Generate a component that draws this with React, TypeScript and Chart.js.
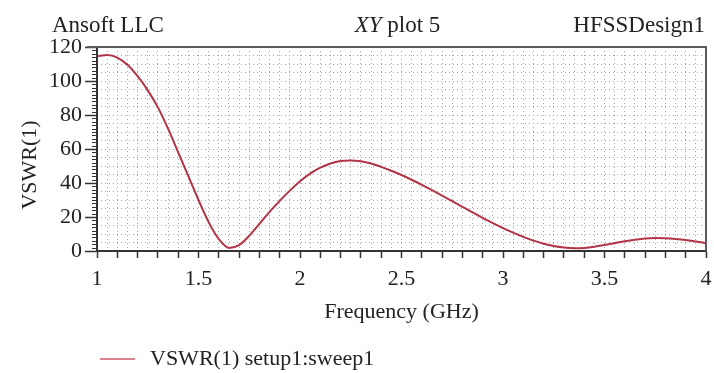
import { useEffect, useRef } from "react";
import { Chart, registerables } from "chart.js";

Chart.register(...registerables);

const FONT = '"Liberation Serif", "Times New Roman", serif';

const FREQ_GHZ = [
  1.0, 1.05, 1.1, 1.15, 1.2, 1.25, 1.3, 1.35, 1.4, 1.45,
  1.5, 1.55, 1.6, 1.65, 1.7, 1.75, 1.8, 1.85, 1.9, 1.95,
  2.0, 2.05, 2.1, 2.15, 2.2, 2.25, 2.3, 2.35, 2.4, 2.45,
  2.5, 2.55, 2.6, 2.65, 2.7, 2.75, 2.8, 2.85, 2.9, 2.95,
  3.0, 3.05, 3.1, 3.15, 3.2, 3.25, 3.3, 3.35, 3.4, 3.45,
  3.5, 3.55, 3.6, 3.65, 3.7, 3.75, 3.8, 3.85, 3.9, 3.95, 4.0,
];

const VSWR = [
  114.5, 115.3, 113.8, 109.5, 102.8, 94.5, 84.5, 72, 58, 44,
  30, 17, 7, 1.8, 3.5, 9, 16, 23, 29.5, 35.5,
  41, 45.5, 49, 51.5, 53, 53.3, 52.8, 51.5, 49.5, 47.2,
  44.7, 41.9, 38.9, 35.8, 32.6, 29.3, 26, 22.7, 19.5, 16.4,
  13.5, 10.8, 8.3, 6.1, 4.3, 2.9, 2, 1.6, 1.8, 2.5,
  3.5, 4.6, 5.7, 6.6, 7.3, 7.6, 7.5, 7.1, 6.5, 5.6, 4.6,
];

const X_TICK_LABELS = ["1", "1.5", "2", "2.5", "3", "3.5", "4"];
const Y_TICK_LABELS = ["0", "20", "40", "60", "80", "100", "120"];

const TITLE_LEFT = "Ansoft LLC";
const TITLE_CENTER_ITALIC = "XY";
const TITLE_CENTER_REST = " plot 5";
const TITLE_RIGHT = "HFSSDesign1";
const X_TITLE = "Frequency (GHz)";
const Y_TITLE = "VSWR(1)";
const LEGEND_LABEL = "VSWR(1) setup1:sweep1";

const decor = {
  id: "decor",
  afterDraw(chart: any) {
    const ctx = chart.ctx as CanvasRenderingContext2D;
    const { left, right, top, bottom } = chart.chartArea;
    const ys = chart.scales.y;
    ctx.save();
    // frame top / right
    ctx.strokeStyle = "#5a5a5a";
    ctx.lineWidth = 2;
    ctx.beginPath();
    ctx.moveTo(left - 10, top);
    ctx.lineTo(right, top);
    ctx.lineTo(right, bottom);
    ctx.stroke();
    // minor y ticks
    ctx.strokeStyle = "#333";
    ctx.lineWidth = 1;
    for (let v = 0; v <= 120; v += 2) {
      if (v % 20 === 0) continue;
      const y = Math.round(ys.getPixelForValue(v)) + 0.5;
      ctx.beginPath();
      ctx.moveTo(left - 5, y);
      ctx.lineTo(left, y);
      ctx.stroke();
    }
    // header
    ctx.fillStyle = "#222";
    ctx.textBaseline = "alphabetic";
    ctx.font = `23px ${FONT}`;
    ctx.textAlign = "left";
    ctx.fillText(TITLE_LEFT, 52, 32);
    ctx.textAlign = "right";
    ctx.fillText(TITLE_RIGHT, right - 1, 32);
    ctx.textAlign = "left";
    ctx.font = `italic 23px ${FONT}`;
    const wI = ctx.measureText(TITLE_CENTER_ITALIC).width;
    ctx.font = `23px ${FONT}`;
    const wR = ctx.measureText(TITLE_CENTER_REST).width;
    const cx = (left + right) / 2;
    const sx = cx - 4 - (wI + wR) / 2;
    ctx.font = `italic 23px ${FONT}`;
    ctx.fillText(TITLE_CENTER_ITALIC, sx, 32);
    ctx.font = `23px ${FONT}`;
    ctx.fillText(TITLE_CENTER_REST, sx + wI, 32);
    // x title
    ctx.textAlign = "center";
    ctx.font = `22px ${FONT}`;
    ctx.fillText(X_TITLE, cx, 318);
    // y title
    ctx.save();
    ctx.translate(36, (top + bottom) / 2 + 16);
    ctx.rotate(-Math.PI / 2);
    ctx.textAlign = "center";
    ctx.font = `22px ${FONT}`;
    ctx.fillText(Y_TITLE, 0, 0);
    ctx.restore();
    // legend
    ctx.strokeStyle = "#d9848f";
    ctx.lineWidth = 2;
    ctx.beginPath();
    ctx.moveTo(100, 359);
    ctx.lineTo(135, 359);
    ctx.stroke();
    ctx.textAlign = "left";
    ctx.font = `22px ${FONT}`;
    ctx.fillStyle = "#222";
    ctx.fillText(LEGEND_LABEL, 150, 365);
    ctx.restore();
  },
};

export default function App() {
  const ref = useRef<HTMLCanvasElement | null>(null);
  useEffect(() => {
    if (!ref.current) return;
    const chart = new Chart(ref.current, {
      type: "line",
      data: {
        datasets: [
          {
            label: LEGEND_LABEL,
            data: FREQ_GHZ.map((f, i) => ({ x: f, y: VSWR[i] })),
            borderColor: "#b23447",
            borderWidth: 2,
            pointRadius: 0,
            cubicInterpolationMode: "monotone",
            xAxisID: "x",
            yAxisID: "y",
          },
        ],
      },
      options: {
        animation: false,
        responsive: false,
        maintainAspectRatio: false,
        layout: { padding: { top: 47, right: 8, left: 0, bottom: 0 } },
        plugins: { legend: { display: false }, tooltip: { enabled: false } },
        scales: {
          xg: {
            type: "linear",
            position: "bottom",
            min: 1,
            max: 4,
            afterFit: (s: any) => {
              s.height = 0;
              s.paddingLeft = 0;
              s.paddingRight = 0;
            },
            ticks: { display: false, stepSize: 0.05, maxTicksLimit: 1000 },
            grid: { drawTicks: false, color: "#a6a6a6", lineWidth: 1 },
            border: { display: false, dash: [1, 3] },
          },
          yg: {
            type: "linear",
            position: "left",
            min: 0,
            max: 120,
            afterFit: (s: any) => {
              s.width = 0;
              s.paddingTop = 0;
              s.paddingBottom = 0;
            },
            ticks: { display: false, stepSize: 5, maxTicksLimit: 1000 },
            grid: { drawTicks: false, color: "#a6a6a6", lineWidth: 1 },
            border: { display: false, dash: [1, 3] },
          },
          x: {
            type: "linear",
            position: "bottom",
            min: 1,
            max: 4,
            afterFit: (s: any) => {
              s.height = 122;
              s.paddingLeft = 0;
              s.paddingRight = 0;
            },
            ticks: {
              stepSize: 0.1,
              autoSkip: false,
              maxRotation: 0,
              maxTicksLimit: 1000,
              padding: 8,
              color: "#222",
              font: { family: FONT, size: 22 },
              callback: (v: any) => {
                const k = (Number(v) - 1) * 2;
                return Math.abs(k - Math.round(k)) < 1e-6 ? X_TICK_LABELS[Math.round(k)] : "";
              },
            },
            grid: { drawOnChartArea: false, tickLength: 7, tickColor: "#333", tickWidth: 1.5 },
            border: { display: true, color: "#333", width: 2 },
          },
          y: {
            type: "linear",
            position: "left",
            min: 0,
            max: 120,
            afterFit: (s: any) => {
              s.width = 97;
              s.paddingTop = 0;
              s.paddingBottom = 0;
            },
            ticks: {
              stepSize: 2,
              autoSkip: false,
              maxTicksLimit: 1000,
              padding: 3,
              color: "#222",
              font: { family: FONT, size: 22 },
              callback: (v: any) => {
                const n = Number(v);
                return n % 20 === 0 ? Y_TICK_LABELS[n / 20] : "";
              },
            },
            grid: {
              drawOnChartArea: false,
              tickLength: 12,
              tickWidth: 1.5,
              tickColor: (c: any) => (c.tick && c.tick.value % 20 === 0 ? "#333" : "rgba(0,0,0,0)"),
            },
            border: { display: true, color: "#333", width: 2 },
          },
        },
      },
      plugins: [decor],
    });
    return () => chart.destroy();
  }, []);
  return (
    <div style={{ position: "fixed", left: 0, top: 0, width: 714, height: 373, background: "#fff" }}>
      <canvas ref={ref} width={714} height={373} style={{ width: 714, height: 373 }} />
    </div>
  );
}
